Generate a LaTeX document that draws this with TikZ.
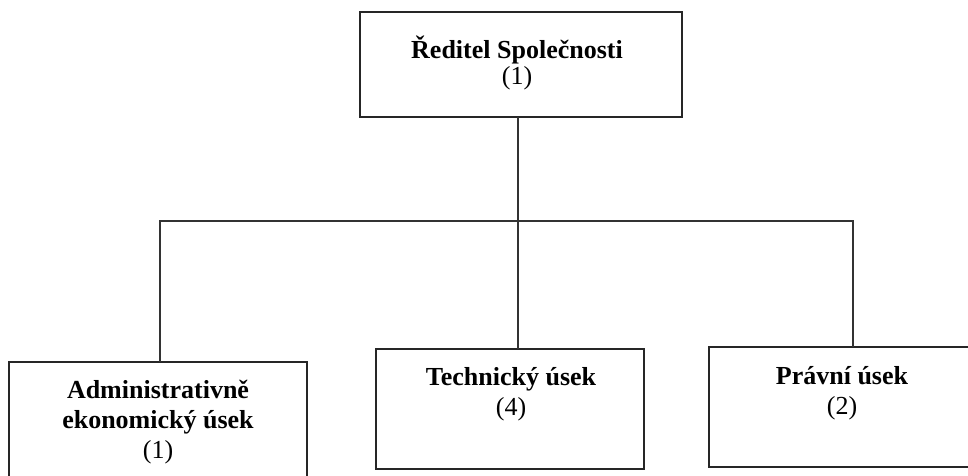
\documentclass[tikz,border=0pt]{standalone}
\usepackage{fontspec}
\setmainfont{Liberation Serif}
\begin{document}
\begin{tikzpicture}[x=1pt,y=-1pt,
  box/.style={draw=black!85,line width=1.5pt,inner sep=0pt},
  lbl/.style={font=\fontsize{26}{30}\selectfont,align=center,inner sep=0pt},
  toplbl/.style={font=\fontsize{26}{26}\selectfont,align=center,inner sep=0pt},
  conn/.style={draw=black!80,line width=1.3pt}]
\useasboundingbox[clip] (0,0) rectangle (968,475);
\fill[white] (0,0) rectangle (968,475);
% boxes
\draw[box] (360,12) rectangle (682,117);
\coordinate (topS) at (518,117);
\draw[box] (9,362) rectangle (307,500);
\coordinate (leftN) at (160,362);
\draw[box] (376,349) rectangle (644,469);
\coordinate (midN) at (518,349);
\draw[box] (709,347) rectangle (1000,467);
\coordinate (rightN) at (853,347);
% labels
\node[toplbl] (t) at (517,63) {\textbf{Ředitel Společnosti}\\(1)};
\node[lbl] (l) at (158,422) {\textbf{Administrativně}\\\textbf{ekonomický úsek}\\(1)};
\node[lbl] (m) at (511,394) {\textbf{Technický úsek}\\(4)};
\node[lbl] (r) at (842,393) {\textbf{Právní úsek}\\(2)};
% connectors
\coordinate (hl) at (160,221);
\coordinate (hr) at (853,221);
\draw[conn] (topS) -- (midN);
\draw[conn] (leftN) -- (hl) -- (hr) -- (rightN);
\end{tikzpicture}
\end{document}
